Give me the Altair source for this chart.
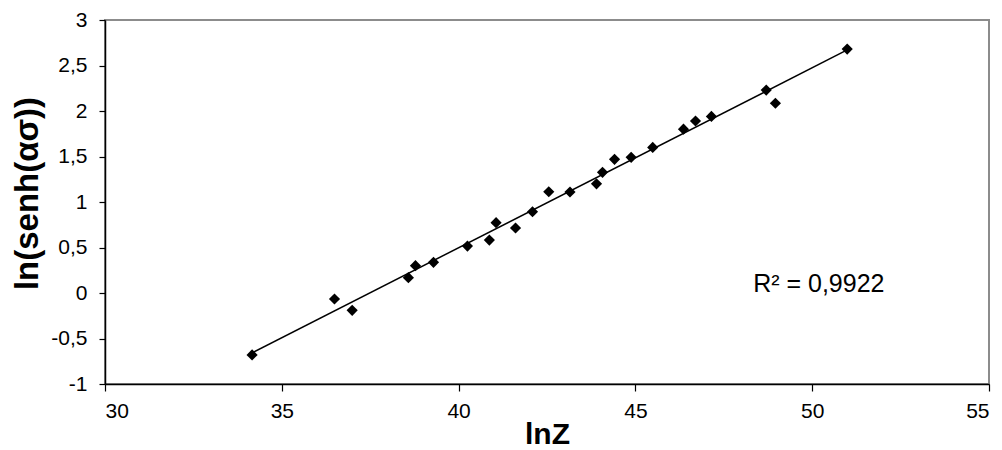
import altair as alt
import pandas as pd

lnZ = [34.16, 36.49, 36.99, 38.58, 38.78, 39.29, 40.25, 40.87, 41.06, 41.61, 42.09, 42.55,
       43.15, 43.90, 44.07, 44.41, 44.88, 45.49, 46.36, 46.70, 47.15, 48.70, 48.96, 50.99]
ln_senh = [-0.68, -0.066, -0.19, 0.168, 0.30, 0.337, 0.516, 0.582, 0.773, 0.714, 0.893, 1.113,
           1.11, 1.20, 1.326, 1.469, 1.491, 1.60, 1.80, 1.89, 1.94, 2.23, 2.085, 2.68]
x_ticks = [30, 35, 40, 45, 50, 55]
y_ticks = [-1, -0.5, 0, 0.5, 1, 1.5, 2, 2.5, 3]
r2_label = ["R\u00b2 = 0,9922"]
r2_pos_x = [48.33]
r2_pos_y = [0.01]

df = pd.DataFrame({"x": lnZ, "y": ln_senh})
df_txt = pd.DataFrame({"x": r2_pos_x, "y": r2_pos_y, "t": r2_label})

FONT = "Liberation Sans"
label_expr = "replace(toString(datum.value), '.', ',')"

xenc = alt.X("x:Q", scale=alt.Scale(domain=[30, 55], nice=False, zero=False),
             axis=alt.Axis(values=x_ticks, title="lnZ", grid=False, labelExpr=label_expr,
                           tickSize=7, tickColor="black", domainColor="black", domainWidth=1.5,
                           tickWidth=1.2, labelFontSize=21, labelFont=FONT, labelColor="black",
                           labelPadding=9, titleFont=FONT, titleFontSize=30, titleFontWeight="bold",
                           titleColor="black", titleBaseline="alphabetic", titleY=59))
yenc = alt.Y("y:Q", scale=alt.Scale(domain=[-1, 3], nice=False, zero=False),
             axis=alt.Axis(values=y_ticks, title="ln(senh(ασ))", grid=False, labelExpr=label_expr,
                           tickSize=6, tickColor="black", domainColor="black", domainWidth=1.5,
                           tickWidth=1.2, labelFontSize=21, labelFont=FONT, labelColor="black",
                           labelPadding=12, titleFont=FONT, titleFontSize=33, titleFontWeight="bold",
                           titleColor="black", titleBaseline="alphabetic", titleX=-68, titleY=173,
                           titleAngle=270))

base = alt.Chart(df)
points = base.mark_point(shape="diamond", filled=True, size=125, color="black", opacity=1).encode(
    x=xenc, y=yenc)
line = base.transform_regression("x", "y").mark_line(color="black", strokeWidth=1.5).encode(
    x="x:Q", y="y:Q")
txt = alt.Chart(df_txt).mark_text(align="left", baseline="alphabetic", fontSize=25,
                                  font=FONT, color="black").encode(x="x:Q", y="y:Q", text="t:N")

chart = alt.layer(line, points, txt).properties(
    width=884, height=364,
    autosize=alt.AutoSizeParams(type="none"),
    padding={"left": 105, "top": 20, "right": 13, "bottom": 66},
    background="white",
).configure_view(stroke="#8c8c8c", strokeWidth=2)

chart.save("out.html", embed_options={"renderer": "svg", "actions": False})
